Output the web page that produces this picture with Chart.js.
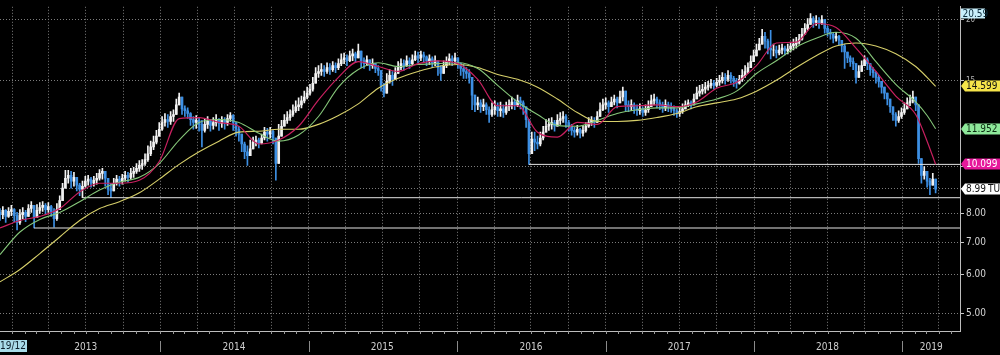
<!DOCTYPE html>
<html>
<head>
<meta charset="utf-8">
<title>TUI</title>
<script src="https://cdn.jsdelivr.net/npm/chart.js@4.4.1/dist/chart.umd.min.js"></script>
<style>
html,body{margin:0;padding:0;background:#000;overflow:hidden;}
canvas{display:block;}
</style>
</head>
<body>
<canvas id="chart" width="1000" height="355"></canvas>
<script>
// ---------------- data (weekly bars) ----------------
const startDate = '2012-12-02';
const axisEndDate = '2019-05-23';
const firstOpen = 8.05;

const closes = [
 7.97, 8.13, 7.90, 8.09, 8.16, 7.93, 7.68, 7.97, 8.05, 7.90,
 8.20, 8.32, 7.86, 8.13, 8.24, 8.32, 8.16, 8.28, 8.09, 7.82,
 8.16, 8.51, 9.03, 9.46, 9.59, 9.33, 9.50, 9.16, 8.99, 9.11,
 9.33, 9.42, 9.24, 9.37, 9.46, 9.68, 9.77, 9.46, 8.99, 8.91,
 9.24, 9.42, 9.33, 9.46, 9.59, 9.50, 9.68, 9.77, 9.91, 10.05,
 10.14, 10.33, 10.62, 10.97, 11.22, 11.54, 11.92, 12.31, 12.48, 12.37,
 12.66, 12.78, 13.38, 13.88, 13.13, 13.01, 12.84, 12.48, 12.31, 12.43,
 12.20, 11.86, 12.20, 12.37, 12.14, 12.31, 12.48, 12.26, 12.43, 12.31,
 12.54, 12.72, 12.31, 11.92, 11.65, 11.12, 10.72, 10.52, 10.87, 11.22,
 11.33, 11.17, 11.44, 11.76, 11.65, 11.81, 11.44, 10.14, 11.54, 12.09,
 12.43, 12.60, 12.78, 13.01, 13.26, 13.38, 13.63, 13.88, 14.14, 14.40,
 14.81, 15.51, 15.66, 15.80, 15.66, 15.95, 15.80, 16.10, 15.95, 16.25,
 16.55, 16.70, 16.47, 16.86, 17.02, 16.70, 17.25, 16.47, 16.25, 16.55,
 16.10, 16.25, 15.88, 15.73, 14.67, 14.14, 14.95, 15.37, 15.09, 15.51,
 15.95, 16.25, 16.10, 16.47, 16.25, 16.55, 16.86, 16.70, 16.94, 16.78,
 16.47, 16.62, 16.32, 16.47, 15.95, 15.51, 16.10, 16.40, 16.62, 16.47,
 16.70, 16.25, 15.88, 15.66, 15.51, 15.23, 14.01, 13.38, 13.50, 13.26,
 13.38, 13.07, 12.78, 13.07, 13.26, 13.01, 13.13, 12.90, 13.26, 13.38,
 13.56, 13.38, 13.63, 13.50, 13.26, 12.48, 10.62, 11.38, 11.22, 11.12,
 11.44, 11.76, 12.09, 12.20, 12.31, 12.09, 12.43, 12.54, 12.66, 12.31,
 12.09, 11.86, 11.76, 11.92, 11.70, 11.86, 12.09, 12.31, 12.43, 12.31,
 12.66, 13.07, 13.38, 13.50, 13.26, 13.56, 13.75, 13.50, 13.88, 14.27,
 13.38, 13.26, 13.38, 13.13, 13.01, 13.13, 12.90, 13.07, 13.26, 13.63,
 13.75, 13.50, 13.38, 13.19, 13.38, 13.26, 13.13, 13.01, 12.84, 12.96,
 13.13, 13.38, 13.50, 13.38, 13.75, 14.14, 14.27, 14.40, 14.54, 14.67,
 14.81, 14.67, 14.88, 15.02, 15.23, 15.09, 15.37, 15.16, 14.95, 14.81,
 15.09, 15.37, 15.66, 15.95, 16.40, 16.86, 17.33, 17.82, 18.49, 18.07,
 17.49, 17.33, 17.33, 17.09, 17.33, 17.49, 17.25, 17.41, 17.66, 17.82,
 17.99, 18.24, 18.67, 19.19, 19.55, 20.10, 19.73, 19.91, 19.64, 20.00,
 19.19, 18.84, 18.67, 18.32, 18.49, 18.15, 17.66, 17.17, 16.70, 16.40,
 16.25, 15.23, 15.66, 16.10, 16.55, 16.25, 15.80, 15.58, 15.23, 14.95,
 14.54, 14.14, 13.75, 13.26, 12.78, 12.43, 12.66, 12.90, 13.13, 13.50,
 13.63, 13.88, 13.38, 10.38, 9.59, 9.77, 9.33, 9.16, 9.42, 8.99
];
const highs = [
 8.20, 8.28, 8.16, 8.24, 8.32, 8.20, 8.05, 8.16, 8.24, 8.13,
 8.35, 8.47, 8.32, 8.35, 8.43, 8.47, 8.39, 8.43, 8.32, 8.20,
 8.39, 8.71, 9.24, 9.82, 9.82, 9.77, 9.73, 9.46, 9.24, 9.33,
 9.55, 9.59, 9.50, 9.55, 9.68, 9.86, 9.91, 9.77, 9.37, 9.24,
 9.46, 9.59, 9.55, 9.64, 9.77, 9.73, 9.91, 9.96, 10.14, 10.28,
 10.33, 10.62, 11.02, 11.27, 11.54, 11.86, 12.31, 12.66, 12.84, 12.78,
 12.96, 13.07, 13.75, 14.14, 13.63, 13.32, 13.19, 12.90, 12.66, 12.72,
 12.60, 12.43, 12.54, 12.66, 12.48, 12.60, 12.78, 12.54, 12.66, 12.60,
 12.78, 12.90, 12.78, 12.31, 12.09, 11.65, 11.22, 11.02, 11.33, 11.49,
 11.54, 11.44, 11.65, 12.03, 11.97, 12.03, 11.86, 11.12, 12.20, 12.43,
 12.78, 12.96, 13.07, 13.38, 13.63, 13.82, 13.94, 14.27, 14.54, 14.74,
 15.23, 15.95, 16.10, 16.25, 16.10, 16.32, 16.25, 16.40, 16.32, 16.62,
 17.02, 17.09, 16.94, 17.25, 17.41, 17.17, 17.82, 17.02, 16.70, 16.86,
 16.47, 16.62, 16.25, 16.10, 15.37, 14.81, 15.51, 15.80, 15.66, 15.95,
 16.40, 16.62, 16.55, 16.86, 16.70, 16.94, 17.25, 17.17, 17.25, 17.17,
 16.86, 16.94, 16.78, 16.86, 16.47, 16.10, 16.47, 16.78, 17.02, 16.86,
 17.09, 16.70, 16.32, 16.18, 15.95, 15.80, 15.02, 13.88, 13.88, 13.69,
 13.75, 13.50, 13.26, 13.50, 13.63, 13.50, 13.56, 13.38, 13.56, 13.69,
 13.88, 13.75, 14.01, 13.88, 13.63, 13.07, 12.31, 11.76, 11.76, 11.54,
 11.76, 12.09, 12.48, 12.54, 12.60, 12.43, 12.78, 12.90, 12.96, 12.78,
 12.43, 12.20, 12.03, 12.14, 11.97, 12.14, 12.31, 12.60, 12.66, 12.60,
 12.96, 13.50, 13.75, 13.82, 13.63, 13.88, 14.01, 13.88, 14.27, 14.54,
 13.75, 13.63, 13.69, 13.50, 13.38, 13.44, 13.26, 13.38, 13.63, 14.01,
 14.07, 13.88, 13.69, 13.56, 13.69, 13.56, 13.50, 13.32, 13.13, 13.19,
 13.44, 13.63, 13.69, 13.63, 14.07, 14.54, 14.67, 14.74, 14.88, 14.95,
 15.09, 15.02, 15.16, 15.37, 15.58, 15.51, 15.73, 15.58, 15.30, 15.16,
 15.37, 15.80, 16.10, 16.32, 16.86, 17.33, 17.82, 18.32, 19.11, 18.84,
 18.24, 19.02, 17.82, 17.66, 17.74, 17.82, 17.66, 17.82, 17.99, 18.24,
 18.40, 18.67, 19.19, 19.64, 20.10, 20.59, 20.28, 20.38, 20.19, 20.38,
 19.82, 19.37, 19.11, 18.76, 18.84, 18.58, 18.15, 17.82, 17.17, 16.86,
 16.70, 16.10, 16.10, 16.47, 16.86, 16.70, 16.25, 15.95, 15.66, 15.37,
 14.95, 14.54, 14.14, 13.69, 13.26, 12.90, 13.01, 13.19, 13.50, 13.82,
 14.01, 14.27, 13.75, 13.38, 10.00, 10.00, 9.68, 9.46, 9.68, 9.29
];
const lows = [
 7.75, 7.82, 7.68, 7.86, 7.93, 7.71, 7.41, 7.61, 7.82, 7.71,
 7.97, 8.05, 7.48, 7.86, 8.01, 8.09, 7.97, 8.05, 7.90, 7.51,
 7.75, 8.16, 8.59, 9.11, 9.24, 9.03, 9.11, 8.91, 8.71, 8.63,
 9.07, 9.16, 9.07, 9.11, 9.20, 9.37, 9.42, 9.11, 8.75, 8.63,
 8.91, 9.16, 9.11, 9.20, 9.33, 9.29, 9.42, 9.50, 9.68, 9.77,
 9.86, 10.05, 10.24, 10.52, 10.82, 11.12, 11.54, 11.86, 12.09, 12.03,
 12.20, 12.37, 12.78, 13.38, 12.78, 12.66, 12.54, 12.14, 11.92, 11.97,
 11.81, 10.97, 11.76, 11.97, 11.81, 11.92, 12.09, 11.86, 12.03, 11.92,
 12.14, 12.37, 11.86, 11.54, 11.27, 10.72, 10.38, 10.05, 10.52, 10.97,
 11.02, 10.92, 11.12, 11.33, 11.27, 11.44, 11.12, 9.37, 10.62, 11.65,
 12.09, 12.26, 12.43, 12.66, 12.90, 13.01, 13.19, 13.50, 13.75, 14.01,
 14.27, 15.09, 15.23, 15.37, 15.30, 15.51, 15.44, 15.66, 15.58, 15.80,
 16.10, 16.25, 16.10, 16.40, 16.47, 16.32, 16.70, 15.95, 15.88, 16.10,
 15.73, 15.88, 15.58, 15.37, 14.27, 13.88, 14.54, 14.81, 14.67, 15.09,
 15.51, 15.80, 15.73, 16.03, 15.88, 16.10, 16.47, 16.32, 16.47, 16.40,
 16.10, 16.18, 15.95, 16.10, 15.37, 15.02, 15.66, 15.95, 16.18, 16.10,
 16.25, 15.88, 15.37, 15.16, 15.16, 14.81, 13.07, 12.96, 13.07, 12.90,
 13.01, 12.78, 12.31, 12.66, 12.78, 12.66, 12.66, 12.60, 12.78, 13.01,
 13.13, 13.07, 13.26, 13.13, 12.78, 12.03, 10.10, 10.62, 10.77, 10.87,
 11.02, 11.33, 11.76, 11.86, 11.92, 11.81, 12.09, 12.20, 12.31, 12.03,
 11.81, 11.60, 11.49, 11.60, 11.44, 11.54, 11.76, 12.03, 12.14, 12.03,
 12.37, 12.78, 13.01, 13.13, 12.90, 13.26, 13.38, 13.19, 13.50, 13.63,
 13.01, 12.96, 13.01, 12.84, 12.72, 12.78, 12.66, 12.72, 12.90, 13.26,
 13.38, 13.19, 13.07, 12.90, 13.01, 12.96, 12.90, 12.72, 12.60, 12.66,
 12.84, 13.13, 13.26, 13.13, 13.38, 13.75, 13.94, 14.07, 14.14, 14.34,
 14.47, 14.40, 14.54, 14.67, 14.81, 14.74, 14.95, 14.81, 14.60, 14.47,
 14.74, 14.95, 15.23, 15.51, 15.95, 16.40, 16.86, 17.33, 17.99, 17.49,
 17.02, 16.62, 16.86, 16.70, 16.94, 17.02, 16.94, 17.02, 17.17, 17.33,
 17.49, 17.82, 18.15, 18.67, 19.02, 19.55, 19.28, 19.46, 19.19, 19.55,
 18.76, 18.49, 18.24, 17.91, 18.07, 17.74, 17.17, 15.88, 16.32, 16.03,
 15.80, 14.81, 15.37, 15.66, 16.10, 15.80, 15.37, 15.23, 14.81, 14.54,
 14.14, 13.75, 13.38, 12.90, 12.43, 12.09, 12.31, 12.54, 12.78, 13.19,
 13.32, 13.50, 13.01, 10.14, 9.24, 9.42, 9.07, 8.75, 9.16, 8.83
];

// moving averages, sampled at these week indices
const maWeeks = [0,7,14,21,28,35,42,49,56,63,70,77,84,91,98,105,112,119,126,133,140,147,154,161,168,175,182,189,196,203,210,217,224,231,238,245,252,259,266,273,280,287,294,301,308,315,322,326,329];
const maFast = [7.48,7.75,7.90,8.20,8.87,9.24,9.24,9.37,10.24,12.54,12.60,12.31,12.09,11.12,11.33,12.09,13.69,15.23,16.40,16.03,15.66,16.25,16.47,16.25,15.09,13.32,13.32,11.76,11.49,12.31,12.20,13.26,13.32,13.38,13.26,13.56,14.47,14.88,16.10,17.91,17.99,19.64,19.28,17.49,15.66,13.94,12.78,11.27,10.099];
const maMid = [6.60,7.34,7.79,8.05,8.47,8.95,9.29,9.50,10.14,11.33,12.31,12.48,12.31,11.70,11.27,11.60,12.66,14.54,15.80,16.32,16.03,16.18,16.25,16.32,15.88,14.67,13.56,12.78,12.14,12.09,12.43,12.84,13.07,13.19,13.19,13.44,13.75,14.27,15.51,16.47,17.58,18.32,18.84,18.32,16.40,14.74,13.56,12.72,11.952];
const maSlow = [5.80,6.15,6.63,7.17,7.75,8.20,8.47,8.83,9.42,10.10,10.72,11.27,11.76,11.81,11.92,11.92,12.20,12.72,13.44,14.47,15.16,15.66,16.03,16.18,15.95,15.44,15.09,14.54,13.75,12.90,12.37,12.37,12.43,12.60,12.84,13.26,13.50,13.75,14.27,15.02,15.95,16.86,17.66,17.91,17.66,17.02,16.03,15.23,14.599];

const supportLevels = [10.10, 8.63, 7.48];
const supportStartWeeks = [186, 29, 12];

const yTickValues = [5, 6, 7, 8, 9, 10, 15, 20];
const yearLabels = ['2013','2014','2015','2016','2017','2018','2019'];
const lastYearLabelDate = '2019-03-13';
const startLabel = '11/19/12';
const highValue = 20.59;
const lastValues = [14.599, 11.952, 10.099, 8.99];
const tickerName = 'TUI';

// ---------------- fonts: prefer a narrow face ----------------
function fontAvailable(name) {
  const c = document.createElement('canvas').getContext('2d');
  const t = 'mmmwwlli 10.599 TUI';
  c.font = '20px monospace'; const a = c.measureText(t).width;
  c.font = '20px "' + name + '", monospace'; const b = c.measureText(t).width;
  return Math.abs(a - b) > 0.5;
}
const narrowCandidates = ['Liberation Sans Narrow', 'DejaVu Sans Condensed', 'Roboto Condensed', 'Noto Sans Condensed', 'Open Sans Condensed'];
const narrow = narrowCandidates.find(fontAvailable);
const FONT = narrow ? '"' + narrow + '", "Liberation Sans", Arial, sans-serif' : '"Liberation Sans", Arial, sans-serif';
const SQUEEZE = narrow ? 1 : 0.76;
const TICK_SIZE = narrow ? 10 : 9;
Chart.defaults.font.family = FONT;

// ---------------- build ----------------
const WEEK = 7 * 86400000;
const x0 = Date.parse(startDate);
const xMax = Date.parse(axisEndDate);
const wx = w => x0 + w * WEEK;

const UP = '#f2f2f2', DOWN = '#3d8fe3';
const opens = closes.map((c, i) => i === 0 ? firstOpen : closes[i - 1]);
const colors = closes.map((c, i) => c >= opens[i] ? UP : DOWN);
const wickData = closes.map((c, i) => ({x: wx(i), y: [Math.min(lows[i], opens[i], c), Math.max(highs[i], opens[i], c)]}));
const bodyData = closes.map((c, i) => ({x: wx(i), y: [opens[i], c]}));
const maSeries = arr => maWeeks.map((w, k) => ({x: wx(w), y: arr[k]}));

const xTicks = [];
for (let yr = 2013; yr <= 2019; yr++) {
  for (const m of [0, 3, 6, 9]) {
    const v = Date.UTC(yr, m, 1);
    if (v > x0 && v < xMax) xTicks.push({value: v, label: m === 6 ? yearLabels[yr - 2013] : '', grid: true});
  }
}
xTicks.push({value: Date.parse(lastYearLabelDate), label: yearLabels[6], grid: false});
xTicks.sort((a, b) => a.value - b.value);
const xTickMap = new Map(xTicks.map(t => [t.value, t]));

const datasets = [
  {type: 'line', data: maSeries(maFast), borderColor: '#c8205f', borderWidth: 1.2, pointRadius: 0, cubicInterpolationMode: 'monotone', order: 0},
  {type: 'line', data: maSeries(maMid), borderColor: '#86c77a', borderWidth: 1.1, pointRadius: 0, cubicInterpolationMode: 'monotone', order: 0},
  {type: 'line', data: maSeries(maSlow), borderColor: '#d6cf6a', borderWidth: 1.1, pointRadius: 0, cubicInterpolationMode: 'monotone', order: 0}
];
supportLevels.forEach((lv, k) => {
  datasets.push({type: 'line', data: [{x: wx(supportStartWeeks[k]), y: lv}, {x: xMax, y: lv}], borderColor: '#e4e4e4', borderWidth: 1, pointRadius: 0, order: 0});
});
datasets.push({type: 'bar', data: bodyData, backgroundColor: colors, barThickness: 2, grouped: false, order: 1});
datasets.push({type: 'bar', data: wickData, backgroundColor: colors, barThickness: 1, grouped: false, order: 2});

function squeezedText(c, txt, x, y) {
  c.save(); c.translate(x, y); c.scale(SQUEEZE, 1); c.fillText(txt, 0, 0); c.restore();
}

const deco = {
  id: 'deco',
  beforeDraw(chart) {
    const c = chart.ctx;
    c.save(); c.fillStyle = '#000'; c.fillRect(0, 0, chart.width, chart.height); c.restore();
  },
  afterDraw(chart) {
    const c = chart.ctx, xs = chart.scales.x, ys = chart.scales.y, ca = chart.chartArea;
    c.save();
    // monthly ticks on the time axis
    c.strokeStyle = '#9a9a9a'; c.lineWidth = 1;
    for (let yr = 2012; yr <= 2019; yr++) for (let m = 0; m < 12; m++) {
      const v = Date.UTC(yr, m, 1);
      if (v <= x0 || v >= xMax) continue;
      const px = Math.round(xs.getPixelForValue(v)) + 0.5;
      c.beginPath(); c.moveTo(px, ca.bottom); c.lineTo(px, ca.bottom + 3); c.stroke();
    }
    // year separators
    c.strokeStyle = '#8a8a8a';
    for (let yr = 2014; yr <= 2019; yr++) {
      const px = Math.round(xs.getPixelForValue(Date.UTC(yr, 0, 1))) + 0.5;
      c.beginPath(); c.moveTo(px, ca.bottom + 10); c.lineTo(px, ca.bottom + 21); c.stroke();
    }
    // start date box
    c.fillStyle = '#a9dbe9';
    c.fillRect(0, ca.bottom + 9, 27, 12);
    c.fillStyle = '#0c1e2a'; c.font = '10px ' + FONT; c.textAlign = 'right'; c.textBaseline = 'middle';
    squeezedText(c, startLabel, 26, ca.bottom + 15.5);
    // high tag
    c.textAlign = 'left';
    const yh = ys.getPixelForValue(highValue);
    c.fillStyle = '#c8eefa'; c.fillRect(961, yh - 5, 24, 10);
    c.fillStyle = '#0b2a3a'; c.font = '10px ' + FONT;
    squeezedText(c, highValue.toFixed(2), 962.5, yh + 0.5);
    // last-value tags
    const tagStyles = [['#f5e44a', '#111'], ['#8ee89a', '#0a2a10'], ['#e6199b', '#ffffff'], ['#ffffff', '#111']];
    lastValues.forEach((v, k) => {
      const yc = Math.round(ys.getPixelForValue(v));
      c.fillStyle = tagStyles[k][0];
      c.beginPath();
      c.moveTo(961, yc); c.lineTo(965, yc - 5.5); c.lineTo(1000, yc - 5.5); c.lineTo(1000, yc + 5.5); c.lineTo(965, yc + 5.5);
      c.closePath(); c.fill();
      c.fillStyle = tagStyles[k][1]; c.font = '10px ' + FONT; c.textAlign = 'left'; c.textBaseline = 'middle';
      const txt = k === 3 ? v.toFixed(2) : v.toFixed(3);
      squeezedText(c, txt, 966, yc + 0.5);
      if (k === 3) squeezedText(c, tickerName, 988, yc + 0.5);
    });
    c.restore();
  }
};

new Chart(document.getElementById('chart'), {
  type: 'bar',
  data: {datasets},
  options: {
    responsive: false,
    animation: false,
    devicePixelRatio: 1,
    layout: {padding: 0},
    plugins: {legend: {display: false}, tooltip: {enabled: false}},
    scales: {
      x: {
        type: 'linear', min: x0, max: xMax, offset: false,
        grid: {offset: false, drawTicks: false, lineWidth: 1,
          color: ctx => (ctx.tick && xTickMap.has(ctx.tick.value) && !xTickMap.get(ctx.tick.value).grid) ? 'rgba(0,0,0,0)' : '#7c7c7c'},
        border: {display: true, color: '#bdbdbd', width: 1, dash: [1, 2]},
        ticks: {autoSkip: false, maxRotation: 0, minRotation: 0, padding: 10, color: '#cfcfcf', font: {size: TICK_SIZE},
          callback: v => xTickMap.has(v) ? xTickMap.get(v).label : ''},
        afterBuildTicks: s => { s.ticks = xTicks.map(t => ({value: t.value})); },
        afterFit: s => { s.height = 24; }
      },
      y: {
        type: 'logarithmic', position: 'right', min: 4.6, max: 21.25,
        grid: {drawTicks: true, tickLength: 4, tickColor: '#c8c8c8', color: '#7c7c7c', lineWidth: 1},
        border: {display: true, color: '#bdbdbd', width: 1, dash: [1, 2]},
        ticks: {padding: 2, color: ctx => ctx.tick && ctx.tick.value >= 15 ? '#b4b4b4' : '#d4d4d4',
          font: ctx => ({size: ctx.tick && ctx.tick.value >= 15 ? 8 : TICK_SIZE}),
          callback: v => (v === 9 || v === 10) ? '' : (v >= 15 ? String(v) : v.toFixed(2))},
        afterBuildTicks: s => { s.ticks = yTickValues.map(v => ({value: v})); },
        afterFit: s => { s.width = 40; }
      }
    }
  },
  plugins: [deco]
});
</script>
</body>
</html>
